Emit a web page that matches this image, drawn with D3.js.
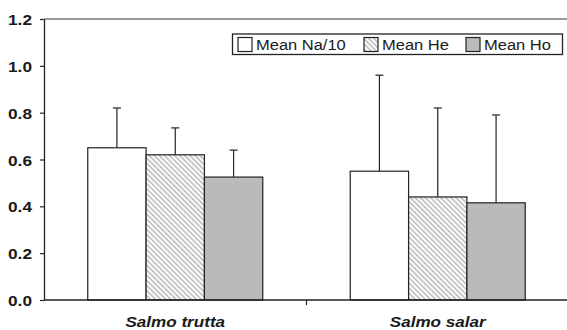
<!DOCTYPE html>
<html lang="en">
<head>
<meta charset="UTF-8">
<title>Salmo means</title>
<script src="https://d3js.org/d3.v7.min.js"></script>
<style>
  body { margin: 0; background: #fff; }
  text { font-family: "Liberation Sans", Arial, sans-serif; fill: #1a1a1a; }
</style>
</head>
<body>
<svg class="chart"></svg>
<script>
const W = 567, H = 330;

// data
const species = ["Salmo trutta", "Salmo salar"];
const seriesNames = ["Mean Na/10", "Mean He", "Mean Ho"];
const truttaMean = [0.65, 0.62, 0.525];
const truttaErr = [0.17, 0.115, 0.115];
const salarMean = [0.55, 0.44, 0.415];
const salarErr = [0.41, 0.38, 0.375];
const yTicks = [0, 0.2, 0.4, 0.6, 0.8, 1.0, 1.2];

const means = [truttaMean, salarMean];
const errs = [truttaErr, salarErr];
const rows = [];
species.forEach((sp, i) => {
  seriesNames.forEach((s, j) => {
    rows.push({ sp, s, mean: means[i][j], err: errs[i][j] });
  });
});

const m = { left: 44, top: 19, right: -2, bottom: 30 };
const svg = d3.select(".chart").attr("width", W).attr("height", H);

const x0 = d3.scaleBand().domain(species).range([m.left, W - m.right]);
const x1 = d3.scaleBand().domain(seriesNames)
  .range([43.75, x0.bandwidth() - 43.75]);
const y = d3.scaleLinear().domain([0, 1.2]).range([H - m.bottom, m.top]);

// hatch pattern, lines running down to the right
const defs = svg.append("defs");
const pat = defs.append("pattern")
  .attr("id", "hatch")
  .attr("patternUnits", "userSpaceOnUse")
  .attr("width", 3.6).attr("height", 3.6)
  .attr("patternTransform", "rotate(45)");
pat.append("rect").attr("width", 3.6).attr("height", 3.6).attr("fill", "#fff");
pat.append("rect").attr("width", 3.6).attr("height", 1.8).attr("fill", "#c4c4c4");

const fills = d3.scaleOrdinal().domain(seriesNames)
  .range(["#ffffff", "url(#hatch)", "#bababa"]);

// frame top line
svg.append("line")
  .attr("x1", m.left).attr("x2", W + 5)
  .attr("y1", m.top).attr("y2", m.top)
  .attr("stroke", "#333").attr("stroke-width", 1);

// bars
const bars = svg.append("g");
bars.selectAll("rect")
  .data(rows)
  .join("rect")
  .attr("x", d => x0(d.sp) + x1(d.s))
  .attr("y", d => y(d.mean))
  .attr("width", x1.bandwidth())
  .attr("height", d => y(0) - y(d.mean))
  .attr("fill", d => fills(d.s))
  .attr("stroke", "#222")
  .attr("stroke-width", 1.2);

// error bars
const eb = svg.append("g").attr("stroke", "#222").attr("stroke-width", 1.2);
eb.selectAll("line.v")
  .data(rows)
  .join("line")
  .attr("class", "v")
  .attr("x1", d => x0(d.sp) + x1(d.s) + x1.bandwidth() / 2)
  .attr("x2", d => x0(d.sp) + x1(d.s) + x1.bandwidth() / 2)
  .attr("y1", d => y(d.mean))
  .attr("y2", d => y(d.mean + d.err));
eb.selectAll("line.cap")
  .data(rows)
  .join("line")
  .attr("class", "cap")
  .attr("x1", d => x0(d.sp) + x1(d.s) + x1.bandwidth() / 2 - 4)
  .attr("x2", d => x0(d.sp) + x1(d.s) + x1.bandwidth() / 2 + 4)
  .attr("y1", d => y(d.mean + d.err))
  .attr("y2", d => y(d.mean + d.err));

// y axis
const yAxis = svg.append("g")
  .attr("transform", `translate(${m.left},0)`)
  .call(d3.axisLeft(y).tickValues(yTicks).tickFormat(d3.format(".1f"))
    .tickSize(4).tickPadding(0).tickSizeOuter(0));
yAxis.select(".domain").attr("stroke", "#222").attr("stroke-width", 1.3);
yAxis.selectAll(".tick line").attr("stroke", "#222").attr("stroke-width", 1.2);
yAxis.selectAll(".tick text")
  .attr("x", null).attr("dy", null)
  .attr("text-anchor", "end")
  .attr("dominant-baseline", "central")
  .style("font-size", "15px").style("font-weight", "bold")
  .attr("transform", "translate(-12,0) scale(1.15,1)");

// x axis
const xAxis = svg.append("g")
  .attr("transform", `translate(0,${y(0)})`);
xAxis.append("line")
  .attr("x1", m.left).attr("x2", W + 5)
  .attr("stroke", "#222").attr("stroke-width", 1.3);
xAxis.selectAll("line.sep")
  .data(species.slice(1))
  .join("line")
  .attr("class", "sep")
  .attr("x1", d => x0(d)).attr("x2", d => x0(d))
  .attr("y1", 0).attr("y2", 5)
  .attr("stroke", "#222").attr("stroke-width", 1.2);
xAxis.selectAll("text")
  .data(species)
  .join("text")
  .attr("transform", d => `translate(${x0(d) + x0.bandwidth() / 2},27) scale(1.14,1)`)
  .attr("text-anchor", "middle")
  .style("font-size", "15px").style("font-weight", "bold").style("font-style", "italic")
  .text(d => d);

// legend
const lg = svg.append("g");
lg.append("rect")
  .attr("x", 232.5).attr("y", 34).attr("width", 330).attr("height", 20.5)
  .attr("fill", "#fff").attr("stroke", "#222").attr("stroke-width", 1.3);
const legX = [238, 364, 466];
const items = lg.selectAll("g.item")
  .data(seriesNames)
  .join("g")
  .attr("class", "item")
  .attr("transform", (d, i) => `translate(${legX[i]},37.5)`);
items.append("rect")
  .attr("width", 14).attr("height", 14)
  .attr("fill", d => fills(d))
  .attr("stroke", "#222").attr("stroke-width", 1.2);
items.append("text")
  .attr("transform", "translate(18,12.5) scale(1.1,1)")
  .style("font-size", "15px")
  .text(d => d);
</script>
</body>
</html>
